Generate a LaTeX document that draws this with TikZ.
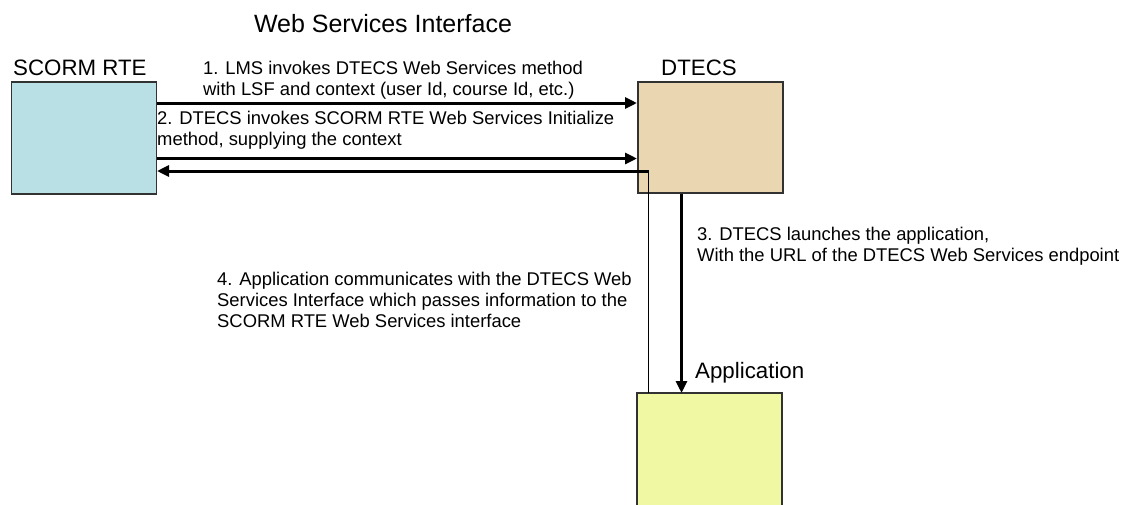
\documentclass[tikz,border=0pt]{standalone}
\usepackage{fontspec}
\setmainfont{Liberation Sans}
\usetikzlibrary{arrows.meta}
\definecolor{rtefill}{RGB}{185,224,228}
\definecolor{dtecsfill}{RGB}{235,214,178}
\definecolor{appfill}{RGB}{240,248,164}
\definecolor{edge}{RGB}{50,50,50}
\begin{document}
\begin{tikzpicture}[x=1pt,y=-1pt,
  block/.style={draw=edge,line width=1.5pt,minimum width=145pt,inner sep=0pt},
  flow/.style={line width=3pt,-{Triangle[length=12pt,width=11pt]}},
  thinline/.style={line width=1pt},
  note/.style={font=\fontsize{18.4}{20.8}\selectfont,align=left,inner sep=0pt,anchor=base west},
  caption/.style={font=\fontsize{22.3}{24}\selectfont,inner sep=0pt,anchor=base west}]
\useasboundingbox (0,0) rectangle (1127,504);

% title
\node[font=\fontsize{25}{27}\selectfont,inner sep=0pt,anchor=base] (title) at (383,32) {Web Services Interface};

% blocks
\node[block,fill=rtefill,minimum height=112pt,anchor=north west] (rte) at (10.5,81) {};
\node[block,fill=dtecsfill,minimum height=111pt,anchor=north west] (dtecs) at (637,81) {};
\fill[appfill] (637,393) rectangle (782,506);
\draw[edge,line width=1.5pt] (637,506) -- (637,393) -- (782,393) -- (782,506);
\coordinate (app) at (709.5,393);

% block captions
\node[caption] (rtecap) at (13,75.5) {SCORM RTE};
\node[caption] (dtecscap) at (661,75.5) {DTECS};
\node[caption] (appcap) at (695,378) {Application};

% messages
\draw[flow] (rte.east |- 0,103) -- (dtecs.west |- 0,103);
\draw[flow] (rte.east |- 0,158.5) -- (dtecs.west |- 0,158.5);
\coordinate (turn) at (648,171);
\draw[thinline] (turn |- app) -- (turn);
\draw[flow] ([xshift=0.5pt]turn) -- (rte.east |- turn);
\draw[flow] (dtecs.south -| 681.5,0) -- (app -| 681.5,0);

% message notes (anchored at the baseline of their last line)
\node[note] (n1) at (203,95) {1. LMS invokes DTECS Web Services method\\with LSF and context (user Id, course Id, etc.)};
\node[note] (n2) at (157,145.5) {2. DTECS invokes SCORM RTE Web Services Initialize\\method, supplying the context};
\node[note] (n3) at (697,261) {3. DTECS launches the application,\\With the URL of the DTECS Web Services endpoint};
\node[note] (n4) at (217,327) {4. Application communicates with the DTECS Web\\Services Interface which passes information to the\\SCORM RTE Web Services interface};
\end{tikzpicture}
\end{document}
